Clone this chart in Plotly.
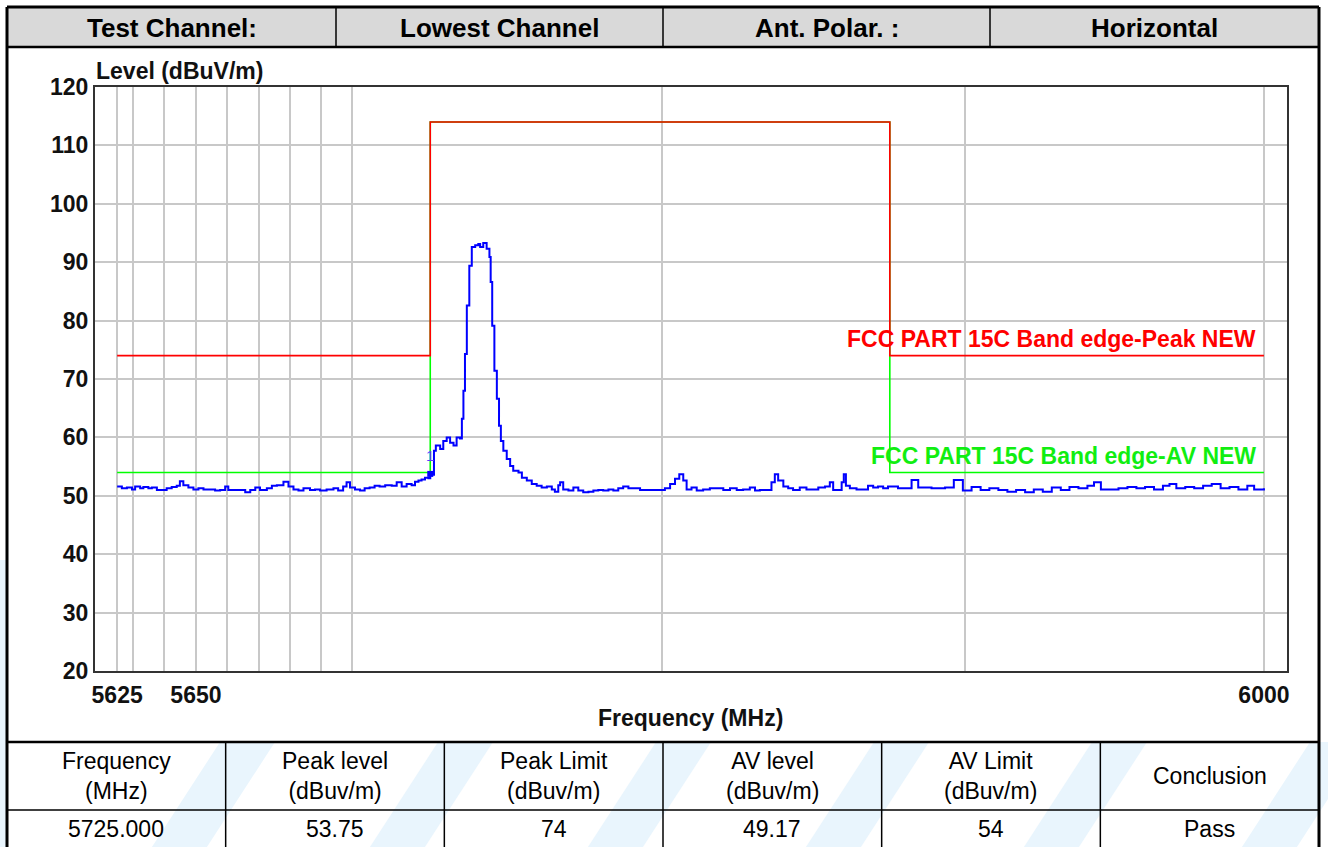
import math
import plotly.graph_objects as go

# ---------------- data ----------------
freq_mhz = [
    5625.0, 5626.5, 5628.1, 5629.7, 5630.7, 5632.3, 5633.3, 5634.9, 5636.0, 5637.6,
    5639.1, 5640.7, 5642.3, 5643.9, 5644.9, 5646.0, 5647.6, 5649.2, 5650.8, 5652.4,
    5654.5, 5656.1, 5657.7, 5659.3, 5660.3, 5661.9, 5664.1, 5665.7, 5667.3, 5668.9,
    5670.4, 5672.6, 5674.2, 5675.8, 5677.9, 5679.5, 5681.1, 5682.7, 5684.3, 5686.4,
    5688.0, 5689.6, 5691.7, 5693.9, 5695.4, 5697.0, 5698.1, 5699.2, 5700.8, 5702.4,
    5703.9, 5705.5, 5707.1, 5708.7, 5710.5, 5712.6, 5714.2, 5715.8, 5717.4, 5719.0,
    5720.1, 5721.2, 5722.2, 5723.3, 5724.4, 5725.0, 5725.6, 5726.2, 5726.8, 5728.2,
    5729.2, 5730.3, 5731.4, 5732.5, 5733.5, 5734.6, 5735.2, 5735.7, 5736.2, 5736.8,
    5737.6, 5738.4, 5739.5, 5740.5, 5741.1, 5742.1, 5743.2, 5744.1, 5744.5, 5745.0,
    5745.7, 5746.5, 5747.2, 5747.8, 5748.6, 5749.7, 5750.8, 5751.8, 5753.5, 5754.6,
    5756.2, 5757.8, 5759.4, 5761.0, 5762.7, 5764.3, 5765.3, 5766.4, 5767.0, 5768.0,
    5769.7, 5771.3, 5772.9, 5774.5, 5776.2, 5777.8, 5779.4, 5781.0, 5782.7, 5784.3,
    5785.9, 5787.5, 5789.2, 5790.8, 5793.0, 5795.2, 5797.3, 5799.5, 5801.1, 5802.8,
    5804.4, 5805.8, 5807.1, 5808.2, 5809.8, 5811.5, 5813.6, 5815.8, 5818.0, 5820.2,
    5822.4, 5824.6, 5826.7, 5828.9, 5830.6, 5832.2, 5834.4, 5836.0, 5837.1, 5838.2,
    5839.9, 5841.5, 5843.1, 5845.3, 5847.5, 5849.7, 5851.4, 5853.6, 5855.2, 5856.3,
    5857.9, 5859.1, 5859.8, 5860.5, 5861.8, 5864.0, 5866.2, 5867.8, 5869.5, 5871.1,
    5872.8, 5874.4, 5876.1, 5877.7, 5879.3, 5882.2, 5884.4, 5888.8, 5893.3, 5896.2,
    5899.2, 5902.1, 5905.1, 5908.0, 5911.0, 5914.0, 5916.9, 5919.9, 5922.8, 5925.8,
    5928.8, 5931.8, 5934.7, 5937.7, 5940.7, 5942.9, 5945.2, 5948.1, 5951.1, 5954.1,
    5957.1, 5960.0, 5963.0, 5966.0, 5968.2, 5970.5, 5973.5, 5976.5, 5979.5, 5982.4,
    5985.4, 5988.4, 5991.4, 5994.4, 5996.7, 6000.0,
]
level_dbuv = [
    51.6, 51.3, 51.4, 51.1, 51.6, 51.3, 51.5, 51.3, 51.4, 51.0,
    51.0, 51.3, 51.5, 51.7, 52.5, 51.8, 51.4, 51.1, 51.3, 51.1,
    51.1, 50.9, 51.0, 51.6, 51.0, 51.0, 51.0, 50.6, 51.0, 51.4,
    51.0, 51.3, 51.7, 51.8, 52.4, 51.6, 51.1, 50.9, 51.3, 51.0,
    51.1, 50.9, 51.1, 51.3, 50.9, 51.6, 52.3, 51.4, 51.1, 50.9,
    51.3, 51.4, 51.7, 51.6, 51.8, 51.7, 52.3, 51.6, 52.0, 51.8,
    52.4, 52.6, 52.8, 53.1, 53.0, 53.75, 53.6, 57.7, 58.6, 58.0,
    59.4, 60.0, 59.1, 58.6, 60.0, 59.8, 63.2, 68.0, 74.3, 82.6,
    89.4, 92.6, 92.9, 93.1, 92.6, 93.3, 92.3, 90.9, 86.6, 79.1,
    71.4, 66.6, 62.0, 59.4, 57.7, 56.3, 55.1, 54.3, 54.0, 53.1,
    52.6, 52.0, 51.7, 51.4, 51.6, 51.1, 50.7, 51.8, 52.3, 51.1,
    50.9, 51.4, 50.9, 50.6, 50.7, 50.9, 51.0, 50.9, 51.1, 50.9,
    51.3, 51.6, 51.3, 51.3, 51.0, 51.0, 51.0, 51.0, 51.3, 52.0,
    52.9, 53.7, 52.6, 51.1, 51.4, 50.9, 51.1, 51.3, 51.3, 51.0,
    51.3, 51.0, 51.1, 51.4, 50.9, 51.0, 51.0, 52.3, 53.7, 52.6,
    51.6, 51.3, 51.0, 51.4, 51.1, 51.1, 51.4, 51.6, 52.3, 51.0,
    51.0, 52.3, 53.7, 51.7, 51.3, 51.1, 51.1, 51.7, 51.4, 51.6,
    51.3, 51.6, 51.6, 51.3, 51.3, 52.7, 51.4, 51.3, 51.4, 52.7,
    50.9, 51.5, 51.0, 51.3, 51.0, 50.7, 51.0, 50.6, 51.1, 50.7,
    51.4, 51.0, 51.5, 51.3, 51.7, 52.3, 51.1, 51.1, 51.3, 51.5,
    51.3, 51.5, 51.1, 51.7, 52.0, 51.3, 51.5, 51.3, 51.7, 52.0,
    51.3, 51.5, 51.1, 51.7, 51.1, 51.3,
]

limit_freq = [5625, 5725, 5725, 5875, 5875, 6000]
peak_limit = [74, 74, 114, 114, 74, 74]
av_limit = [54, 54, 114, 114, 54, 54]

marker_freq = 5725.0
marker_level = 53.75
marker_label = "1"

x_tick_vals = [5625, 5630, 5640, 5650, 5660, 5670, 5680, 5690, 5700, 5800, 5900, 6000]
x_tick_text = ["5625", "", "", "5650", "", "", "", "", "", "", "", "6000"]
y_tick_vals = [20, 30, 40, 50, 60, 70, 80, 90, 100, 110, 120]
x_range_mhz = [5618.0, 6007.8]
y_range = [20, 120]

header_cells = ["Test Channel:", "Lowest Channel", "Ant. Polar. :", "Horizontal"]
table_header = ["Frequency<br>(MHz)", "Peak level<br>(dBuv/m)", "Peak Limit<br>(dBuv/m)",
                "AV level<br>(dBuv/m)", "AV Limit<br>(dBuv/m)", "Conclusion"]
table_row = ["5725.000", "53.75", "74", "49.17", "54", "Pass"]

peak_label = "FCC PART 15C Band edge-Peak NEW"
av_label = "FCC PART 15C Band edge-AV NEW"
y_title = "Level (dBuV/m)"
x_title = "Frequency (MHz)"

# ---------------- layout geometry ----------------
W, H = 1328, 847
FONT = "Arial, Liberation Sans, sans-serif"


def px(x):
    return x / W


def py(y):
    return 1 - y / H


fig = go.Figure()

fig.add_trace(go.Scatter(x=limit_freq, y=av_limit, mode="lines",
                         line=dict(color="#00ff00", width=1.6), hoverinfo="skip"))
fig.add_trace(go.Scatter(x=limit_freq, y=peak_limit, mode="lines",
                         line=dict(color="#ff0000", width=1.6), hoverinfo="skip"))
fig.add_trace(go.Scatter(x=freq_mhz, y=level_dbuv, mode="lines",
                         line=dict(color="#0000ff", width=2, shape="hv")))
fig.add_trace(go.Scatter(x=[marker_freq], y=[marker_level], mode="markers",
                         marker=dict(color="#0000ff", size=6, symbol="square")))
fig.add_trace(go.Scatter(x=[marker_freq], y=[marker_level + 2.9], mode="text",
                         text=[marker_label],
                         textfont=dict(family=FONT, size=15, color="#5a3cff")))

shapes = []
black = "#000000"
wm = "#e9f5fd"
# faint watermark stripes (behind the result table)
for a in [150, 368, 586, 804, 1022, 1240]:
    shapes.append(dict(type="path", xref="paper", yref="paper",
                       path="M {} {} L {} {} L {} {} L {} {} Z".format(
                           px(a), py(850), px(a + 55), py(850),
                           px(a + 125), py(742), px(a + 70), py(742)),
                       fillcolor=wm, line=dict(width=0), layer="below"))
shapes.append(dict(type="rect", xref="paper", yref="paper", x0=0, x1=px(6),
                   y0=0, y1=py(560), fillcolor=wm, line=dict(width=0), layer="below"))
# header background
shapes.append(dict(type="rect", xref="paper", yref="paper", x0=px(7), x1=px(1319),
                   y0=py(47), y1=py(7), fillcolor="#d9d9d9", line=dict(width=0), layer="below"))
# borders
for (x0, y0, x1, y1, w) in [
    (7, 7, 1319, 7, 3), (7, 7, 7, 850, 3), (1319, 7, 1319, 850, 3),
    (7, 47, 1319, 47, 2.5), (7, 742, 1319, 742, 2.5), (7, 810, 1319, 810, 1.5),
]:
    shapes.append(dict(type="line", xref="paper", yref="paper", x0=px(x0), y0=py(y0),
                       x1=px(x1), y1=py(y1), line=dict(color=black, width=w)))
for xv in [336, 663, 990]:
    shapes.append(dict(type="line", xref="paper", yref="paper", x0=px(xv), x1=px(xv),
                       y0=py(7), y1=py(47), line=dict(color=black, width=1.5)))
col_w = (1319 - 7) / 6
for i in range(1, 6):
    xv = 7 + col_w * i
    shapes.append(dict(type="line", xref="paper", yref="paper", x0=px(xv), x1=px(xv),
                       y0=py(742), y1=py(850), line=dict(color=black, width=1.5)))

annotations = []
head_centers = [171.5, 499.5, 826.5, 1154.5]
for txt, cx in zip(header_cells, head_centers):
    annotations.append(dict(text=txt, x=px(cx), y=py(28), xref="paper", yref="paper",
                            showarrow=False, xanchor="center", yanchor="middle",
                            font=dict(family=FONT, size=26, color=black, weight="bold")))
for i, (h, v) in enumerate(zip(table_header, table_row)):
    cx = 7 + col_w * (i + 0.5)
    annotations.append(dict(text=h, x=px(cx), y=py(776), xref="paper", yref="paper",
                            showarrow=False, xanchor="center", yanchor="middle",
                            font=dict(family=FONT, size=23, color=black)))
    annotations.append(dict(text=v, x=px(cx), y=py(829), xref="paper", yref="paper",
                            showarrow=False, xanchor="center", yanchor="middle",
                            font=dict(family=FONT, size=23, color=black)))
annotations.append(dict(text=y_title, x=px(94), y=py(71), xref="paper", yref="paper",
                        showarrow=False, xanchor="left", yanchor="middle",
                        font=dict(family=FONT, size=23, color="#111111", weight="bold")))
annotations.append(dict(text=x_title, x=px(690), y=py(718), xref="paper", yref="paper",
                        showarrow=False, xanchor="center", yanchor="middle",
                        font=dict(family=FONT, size=23, color="#111111", weight="bold")))
annotations.append(dict(text=peak_label, x=px(1258), y=py(339), xref="paper", yref="paper",
                        showarrow=False, xanchor="right", yanchor="middle",
                        font=dict(family=FONT, size=23, color="#ff0000", weight="bold")))
annotations.append(dict(text=av_label, x=px(1258), y=py(456), xref="paper", yref="paper",
                        showarrow=False, xanchor="right", yanchor="middle",
                        font=dict(family=FONT, size=23, color="#11ee11", weight="bold")))

fig.update_layout(
    width=W, height=H,
    margin=dict(l=0, r=0, t=0, b=0, autoexpand=False),
    paper_bgcolor="white", plot_bgcolor="white",
    showlegend=False,
    shapes=shapes, annotations=annotations,
    xaxis=dict(type="log", domain=[px(95), px(1287)],
               range=[math.log10(x_range_mhz[0]), math.log10(x_range_mhz[1])],
               tickmode="array", tickvals=x_tick_vals, ticktext=x_tick_text,
               showgrid=True, gridcolor="#c8c8c8", gridwidth=1.5,
               showline=True, linecolor="#333333", linewidth=2, mirror=True,
               ticks="outside", ticklen=2, tickcolor="rgba(0,0,0,0)",
               tickfont=dict(family=FONT, size=23, color="#111111", weight="bold"),
               zeroline=False, fixedrange=True),
    yaxis=dict(domain=[py(671), py(87)], range=y_range,
               tickmode="array", tickvals=y_tick_vals,
               showgrid=True, gridcolor="#c8c8c8", gridwidth=1.5,
               showline=True, linecolor="#333333", linewidth=2, mirror=True,
               ticks="", tickfont=dict(family=FONT, size=23, color="#111111", weight="bold"),
               zeroline=False, fixedrange=True),
)

fig.write_html("out.html", config={"displayModeBar": False},
               post_script="document.body.style.margin='0px';")
